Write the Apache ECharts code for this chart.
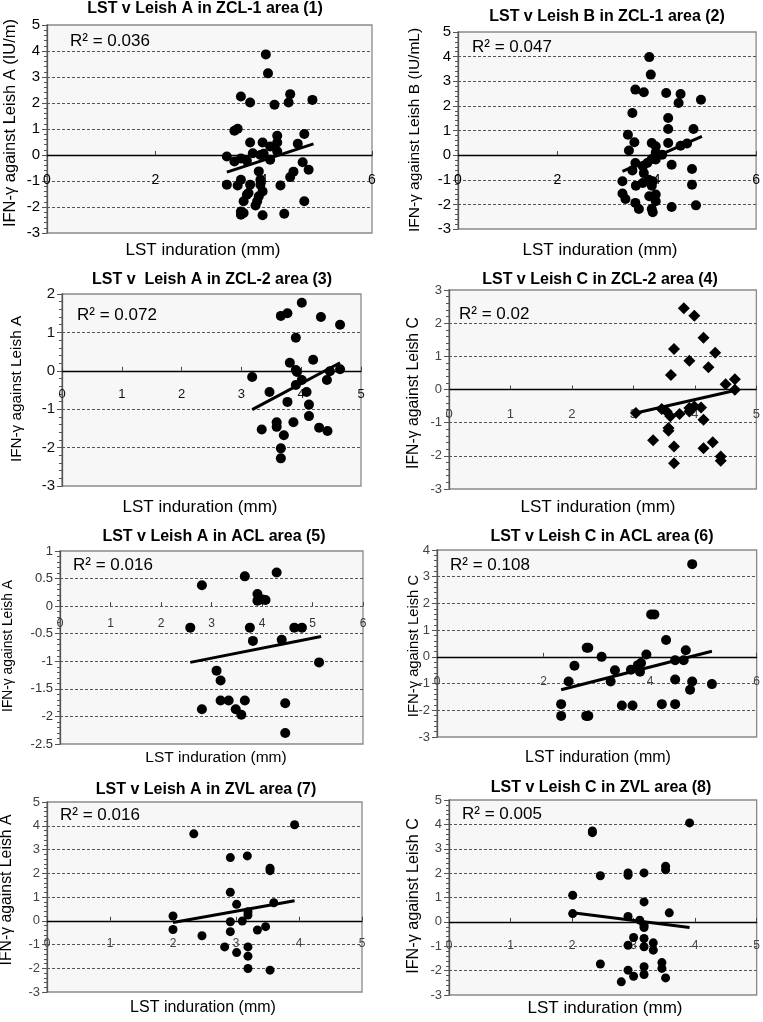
<!DOCTYPE html>
<html><head><meta charset="utf-8">
<script src="https://cdn.jsdelivr.net/npm/echarts@6/dist/echarts.min.js"></script>
<style>html,body{margin:0;padding:0;background:#fff}#c{width:763px;height:1022px}</style>
</head><body><div id="c"></div>
<script>
// ---- data (LST induration mm, IFN-gamma) ----
const pts1 = [[4.04,3.87],[4.08,3.14],[3.58,2.25],[3.75,2.02],[4.20,1.93],[4.49,2.34],[4.46,2.02],[4.90,2.12],[3.52,1.01],[3.46,0.93],[3.75,0.48],[3.98,0.48],[4.25,0.74],[4.25,0.48],[4.12,0.33],[4.75,0.81],[4.63,0.43],[3.32,-0.06],[3.46,-0.25],[3.58,-0.13],[3.69,-0.22],[3.80,0.07],[3.94,0.0],[4.0,0.05],[3.91,-0.63],[4.12,-0.18],[4.25,0.14],[4.72,-0.28],[4.55,-0.64],[4.49,-0.85],[4.83,-0.57],[3.32,-1.14],[3.52,-1.17],[3.58,-0.95],[3.75,-1.14],[3.94,-0.95],[3.94,-1.14],[4.31,-1.17],[3.72,-1.46],[3.69,-1.53],[3.98,-1.40],[3.91,-1.59],[3.88,-1.78],[3.63,-1.78],[3.85,-1.94],[4.75,-1.78],[3.58,-2.17],[3.58,-2.30],[3.63,-2.23],[3.98,-2.32],[4.38,-2.26]];
const trend1 = [[3.32,-0.66],[4.92,0.43]];
const pts2 = [[3.85,3.98],[3.88,3.27],[3.57,2.66],[3.74,2.55],[4.19,2.52],[4.48,2.48],[4.44,2.12],[4.89,2.25],[3.51,1.71],[4.23,1.51],[4.23,1.06],[4.74,1.06],[3.42,0.83],[3.55,0.52],[3.44,0.19],[3.90,0.49],[3.98,0.36],[4.23,0.49],[4.48,0.38],[4.61,0.47],[3.57,-0.32],[3.51,-0.62],[3.72,-0.45],[3.81,-0.32],[3.90,-0.16],[3.98,0.11],[3.98,-0.18],[4.11,0.02],[4.30,-0.39],[4.71,-0.56],[3.74,-0.73],[3.84,-1.0],[3.92,-1.06],[3.72,-1.13],[3.58,-1.24],[3.31,-1.06],[3.90,-1.24],[4.71,-1.20],[3.31,-1.56],[3.37,-1.78],[3.57,-1.94],[3.64,-2.19],[3.85,-1.67],[3.98,-1.60],[3.98,-1.87],[3.90,-2.19],[3.92,-2.32],[4.30,-2.11],[4.79,-2.04]];
const trend2 = [[3.31,-0.66],[4.91,0.76]];
const pts3 = [[4.01,1.77],[3.66,1.43],[3.77,1.50],[4.33,1.40],[4.65,1.20],[3.91,0.86],[3.81,0.21],[4.20,0.29],[3.91,0.02],[3.93,-0.03],[3.18,-0.16],[4.01,-0.24],[3.91,-0.37],[4.48,-0.01],[4.65,0.04],[4.43,-0.24],[3.47,-0.55],[4.09,-0.55],[3.77,-0.81],[4.13,-0.88],[4.13,-1.18],[3.87,-1.34],[3.34,-1.53],[3.59,-1.34],[3.59,-1.46],[3.71,-1.68],[4.30,-1.48],[4.44,-1.57],[3.66,-2.02],[3.66,-2.28]];
const trend3 = [[3.18,-1.01],[4.65,0.21]];
const pts4 = [[3.82,2.45],[3.99,2.22],[3.66,1.22],[4.14,1.56],[4.33,1.11],[3.91,0.87],[4.22,0.67],[3.61,0.44],[4.50,0.16],[4.65,0.31],[4.65,-0.01],[3.04,-0.71],[3.46,-0.59],[3.54,-0.66],[3.60,-0.81],[3.75,-0.74],[3.91,-0.66],[3.91,-0.56],[3.99,-0.51],[4.10,-0.54],[4.14,-0.91],[3.57,-1.16],[3.57,-1.24],[3.32,-1.53],[3.66,-1.72],[3.66,-2.22],[4.14,-1.77],[4.29,-1.59],[4.42,-2.02],[4.42,-2.15]];
const trend4 = [[3.04,-0.71],[4.65,-0.03]];
const pts5 = [[4.29,0.61],[3.66,0.54],[2.81,0.38],[3.91,0.22],[3.91,0.10],[4.01,0.12],[4.07,0.11],[2.58,-0.39],[3.76,-0.39],[4.64,-0.39],[4.79,-0.39],[3.82,-0.63],[4.39,-0.61],[5.13,-1.02],[3.10,-1.17],[3.18,-1.35],[3.18,-1.71],[3.34,-1.71],[3.66,-1.71],[2.81,-1.87],[3.48,-1.87],[3.59,-1.97],[4.46,-1.76],[4.46,-2.30]];
const trend5 = [[2.58,-1.02],[5.17,-0.55]];
const pts6 = [[4.79,3.47],[4.02,1.59],[4.08,1.59],[4.30,0.63],[4.67,0.25],[2.81,0.34],[2.84,0.34],[3.09,0.0],[3.93,0.09],[2.58,-0.33],[3.34,-0.50],[3.64,-0.48],[3.77,-0.31],[3.83,-0.23],[3.81,-0.56],[4.47,-0.13],[4.63,-0.13],[2.47,-0.92],[3.26,-0.92],[4.47,-0.85],[4.79,-0.92],[5.16,-1.02],[4.75,-1.23],[2.33,-1.77],[3.47,-1.82],[3.67,-1.82],[4.22,-1.77],[4.47,-1.77],[2.33,-2.21],[2.80,-2.21],[2.84,-2.21]];
const trend6 = [[2.33,-1.23],[5.16,0.21]];
const pts7 = [[3.93,4.04],[2.33,3.66],[2.91,2.66],[3.18,2.73],[3.54,2.21],[3.54,2.11],[2.91,1.20],[3.01,0.69],[3.60,0.76],[2.0,0.20],[3.19,0.38],[3.19,0.24],[3.10,-0.01],[2.91,-0.04],[2.0,-0.37],[2.91,-0.46],[2.46,-0.63],[3.34,-0.39],[3.47,-0.25],[2.82,-1.10],[3.19,-1.10],[3.01,-1.34],[3.19,-1.49],[3.19,-2.01],[3.54,-2.08]];
const trend7 = [[2.0,-0.07],[3.93,0.84]];
const pts8 = [[3.91,4.06],[2.33,3.73],[2.33,3.66],[3.52,2.28],[3.52,2.14],[2.46,1.89],[2.91,2.01],[2.91,1.91],[3.17,2.01],[2.01,1.09],[3.17,0.82],[2.01,0.34],[2.91,0.22],[3.58,0.37],[3.10,0.07],[3.17,-0.14],[3.17,-0.23],[3.0,-0.64],[3.17,-0.68],[3.32,-0.86],[3.32,-1.16],[2.91,-0.96],[3.17,-1.02],[2.46,-1.73],[3.46,-1.67],[3.46,-1.91],[2.91,-1.98],[3.0,-2.23],[3.17,-1.84],[3.17,-2.16],[2.80,-2.46],[3.52,-2.30]];
const trend8 = [[2.01,0.37],[3.91,-0.23]];

const titles = ["LST v Leish A in ZCL-1 area (1)","LST v Leish B in ZCL-1 area (2)","LST v  Leish A in ZCL-2 area (3)","LST v Leish C in ZCL-2 area (4)","LST v Leish A in ACL area (5)","LST v Leish C in ACL area (6)","LST v Leish A in ZVL area (7)","LST v Leish C in ZVL area (8)"];
const yNames = ["IFN-\u03b3 against Leish A (IU/m)","IFN-\u03b3 against Leish B (IU/mL)","IFN-\u03b3 against Leish A","IFN-\u03b3 against Leish C","IFN-\u03b3 against Leish A","IFN-\u03b3 against Leish C","IFN-\u03b3 against Leish A","IFN-\u03b3 against Leish C"];
const xName = "LST induration (mm)";
const r2 = ["0.036","0.047","0.072","0.02","0.016","0.108","0.016","0.005"];
const xTicks = [[0,6,2],[0,6,2],[0,5,1],[0,5,1],[0,6,1],[0,6,2],[0,5,1],[0,5,1]];
const yTicks = [[-3,5,1],[-3,5,1],[-3,2,1],[-3,3,1],[-2.5,1,0.5],[-3,4,1],[-3,5,1],[-3,5,1]];

const points = [pts1,pts2,pts3,pts4,pts5,pts6,pts7,pts8];
const trends = [trend1,trend2,trend3,trend4,trend5,trend6,trend7,trend8];

// ---- layout ----
const grids = [
  {left:47,top:25,width:325,height:208},
  {left:458,top:32,width:302,height:197},
  {left:62,top:294,width:299,height:192},
  {left:449,top:290,width:309,height:199},
  {left:60,top:551,width:303,height:193},
  {left:437,top:550,width:320,height:187},
  {left:47,top:802,width:315,height:190},
  {left:449,top:800,width:309,height:195}
];
const titlePos = [[205,9],[607,17],[212,280],[600,280],[214,537],[602,537],[206,790],[601,788]];
const r2Pos = [[70,41],[472,47],[77,315],[459,314],[73,565],[450,565],[60,815],[462,814]];
const yNamePos = [[10,123],[415,130],[17,389],[414,393],[8,646],[414,646],[7,890],[414,896]];
const yNameSize = [16.5,15.5,15.3,15.8,13.8,14.8,15.8,16.2];
const xNamePos = [[203,250],[600,250],[200,507],[598,507],[216,758],[598,758],[203,1008],[605,1008]];
const xNameSize = [17,17,17,17,15.5,16,16,17];
const labColor = ['#000','#000','#111','#444','#333','#444','#444','#444'];
const labSize = [15,15,15,13,13,13,13,13];
const xLabSize = [14,14,13,13,12,12,12,12];
const xMargin = [18,18,17,18,12,19,17,18];
const FONT = 'Liberation Sans, Arial, sans-serif';

const chart = echarts.init(document.getElementById('c'), null, {renderer:'canvas'});
const xAxes = [], yAxes = [], series = [], graphic = [];
for (let i=0;i<8;i++){
  const yMin = yTicks[i][0], yMax = yTicks[i][1];
  const zeroOffset = -grids[i].height * (0 - yMin) / (yMax - yMin);
  xAxes.push({
    gridIndex:i, type:'value', min:xTicks[i][0], max:xTicks[i][1], interval:xTicks[i][2],
    position:'bottom', offset: zeroOffset,
    axisLine:{show:i!==4, onZero:false, lineStyle:{color:'#000', width:1.3}},
    axisTick:{show:true, inside:true, length:4, lineStyle:{color:'#444'}},
    axisLabel:{show:true, margin:xMargin[i], color:labColor[i], fontSize:xLabSize[i], fontFamily:FONT, showMinLabel:true, showMaxLabel:true},
    splitLine:{show:false}
  });
  yAxes.push({
    gridIndex:i, type:'value', min:yMin, max:yMax, interval:yTicks[i][2],
    axisLine:{show:true, onZero:false, lineStyle:{color:'#555', width:1.3}},
    axisTick:{show:true, length:5, lineStyle:{color:'#555'}},
    minorTick:{show:true, splitNumber:5, length:3, lineStyle:{color:'#555'}},
    axisLabel:{margin:7, color:labColor[i], fontSize:labSize[i], fontFamily:FONT},
    splitLine:{show:true, showMinLine:false, showMaxLine:false, lineStyle:{color:'#555', type:[3,2], width:1}}
  });
  series.push({
    type:'scatter', xAxisIndex:i, yAxisIndex:i, data:points[i],
    symbol: i===3 ? 'diamond' : 'circle',
    symbolSize: i===3 ? 12 : (i>=6 ? 9 : 10),
    itemStyle:{color:'#000', opacity:1}, z:3, silent:true
  });
  series.push({
    type:'line', xAxisIndex:i, yAxisIndex:i, data:trends[i], symbol:'none',
    lineStyle:{color:'#000', width:3}, z:4, silent:true, animation:false
  });
  graphic.push({type:'text', x:titlePos[i][0], y:titlePos[i][1], style:{text:titles[i], fill:'#000', font:'bold 16px '+FONT, align:'center', verticalAlign:'middle'}});
  graphic.push({type:'text', x:r2Pos[i][0], y:r2Pos[i][1], z:10, style:{text:'R\u00b2 = '+r2[i], fill:'#000', font:'17px '+FONT, align:'left', verticalAlign:'middle'}});
  graphic.push({type:'text', x:yNamePos[i][0], y:yNamePos[i][1], rotation:Math.PI/2, style:{text:yNames[i], fill:'#000', font:yNameSize[i]+'px '+FONT, align:'center', verticalAlign:'middle'}});
  graphic.push({type:'text', x:xNamePos[i][0], y:xNamePos[i][1], style:{text:xName, fill:'#000', font:xNameSize[i]+'px '+FONT, align:'center', verticalAlign:'middle'}});
}
chart.setOption({
  animation:false,
  backgroundColor:'#fff',
  grid: grids.map(g=>Object.assign({show:true, backgroundColor:'#f7f7f7', borderColor:'#8a8a8a', borderWidth:1.3, containLabel:false}, g)),
  xAxis:xAxes, yAxis:yAxes, series:series, graphic:graphic
});
</script></body></html>
